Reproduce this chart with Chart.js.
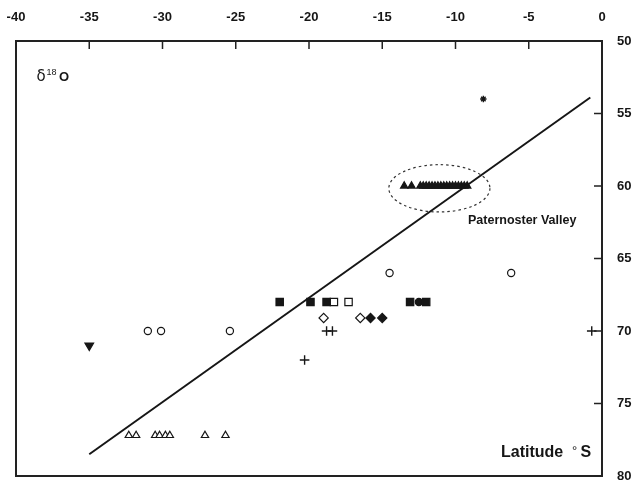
<!DOCTYPE html>
<html>
<head>
<meta charset="utf-8">
<script src="https://cdn.jsdelivr.net/npm/chart.js@4/dist/chart.umd.min.js"></script>
<style>
  html, body { margin: 0; padding: 0; background: #fff; }
  #a { display: block; }
</style>
</head>
<body>
<canvas id="a" width="634" height="485"></canvas>
<script>
// x = latitude (°S, negative), y = δ18O
const xTicks = [-40, -35, -30, -25, -20, -15, -10, -5, 0];
const yTicks = [50, 55, 60, 65, 70, 75, 80];

const filledSquares = [[-22.0, 68], [-19.9, 68], [-18.8, 68], [-13.1, 68], [-12.0, 68]];
const openSquares = [[-18.3, 68], [-17.3, 68]];
const filledCircles = [[-12.5, 68]];
const openCircles = [[-31.0, 70], [-30.1, 70], [-25.4, 70], [-14.5, 66], [-6.2, 66]];
const openDiamonds = [[-19.0, 69.1], [-16.5, 69.1]];
const filledDiamonds = [[-15.8, 69.1], [-15.0, 69.1]];
const crosses = [[-18.8, 70], [-18.4, 70], [-20.3, 72], [-0.7, 70]];
const stars = [[-8.1, 54]];
const downTriangles = [[-35.0, 71]];

const openTriX = [-32.3, -31.8, -30.5, -30.2, -29.8, -29.5, -27.1, -25.7];
const openTriY = 77.2;

// Paternoster Valley
const valleyX = [-13.5, -13.0, -12.4, -12.2, -12.0, -11.8, -11.6, -11.4, -11.2, -11.0,
  -10.8, -10.6, -10.4, -10.2, -10.0, -9.8, -9.6, -9.4, -9.2];
const valleyY = 60;

const trendX = [-35.0, -0.8];
const trendY = [78.5, 53.9];

const ink = "#161616";
const pts = (arr) => arr.map(([x, y]) => ({ x, y }));

function marks(data, style, r, filled, extra) {
  return Object.assign({
    type: "scatter",
    data: data,
    pointStyle: style,
    pointRadius: r,
    pointHoverRadius: r,
    backgroundColor: filled ? ink : "#fff",
    borderColor: ink,
    borderWidth: 1.2,
    clip: false,
  }, extra || {});
}

const deco = {
  id: "deco",
  afterDraw(chart) {
    const { ctx, chartArea: a, scales } = chart;
    const x = scales.x, y = scales.y;
    ctx.save();

    // dashed ellipse round the valley samples
    const cx = x.getPixelForValue(-11.1), cy = y.getPixelForValue(60.16);
    const rx = x.getPixelForValue(-11.1 + 3.45) - cx;
    const ry = y.getPixelForValue(60.16 + 1.63) - cy;
    ctx.strokeStyle = "#333";
    ctx.lineWidth = 1.2;
    ctx.setLineDash([2.5, 3]);
    ctx.beginPath();
    ctx.ellipse(cx, cy, rx, ry, 0, 0, Math.PI * 2);
    ctx.stroke();
    ctx.setLineDash([]);

    // frame
    ctx.strokeStyle = "#222";
    ctx.lineWidth = 2;
    ctx.strokeRect(a.left, a.top, a.right - a.left, a.bottom - a.top);

    // inward tick marks
    ctx.lineWidth = 1.5;
    ctx.beginPath();
    xTicks.forEach((v) => {
      const px = x.getPixelForValue(v);
      ctx.moveTo(px, a.top);
      ctx.lineTo(px, a.top + 8);
    });
    yTicks.forEach((v) => {
      const py = y.getPixelForValue(v);
      ctx.moveTo(a.right, py);
      ctx.lineTo(a.right - 8, py);
    });
    ctx.stroke();

    // texts
    ctx.fillStyle = ink;
    ctx.textBaseline = "alphabetic";
    ctx.textAlign = "left";
    ctx.font = "15px 'DejaVu Sans', 'Liberation Sans', sans-serif";
    ctx.fillText("δ", 36.5, 81);
    ctx.font = "9px 'Liberation Sans', Arial, sans-serif";
    ctx.fillText("18", 46.5, 75);
    ctx.font = "bold 13px 'Liberation Sans', Arial, sans-serif";
    ctx.fillText("O", 59, 80.7);

    ctx.font = "bold 12.5px 'Liberation Sans', Arial, sans-serif";
    ctx.fillText("Paternoster Valley", 468, 224);

    ctx.font = "bold 16px 'Liberation Sans', Arial, sans-serif";
    ctx.fillText("Latitude", 501, 457);
    ctx.font = "13px 'Liberation Sans', Arial, sans-serif";
    ctx.fillText("°", 572, 455);
    ctx.font = "bold 16px 'Liberation Sans', Arial, sans-serif";
    ctx.fillText("S", 580.5, 457);

    ctx.restore();
  },
};

const tickFont = { family: "'Liberation Sans', Arial, sans-serif", size: 13, weight: "bold" };

new Chart(document.querySelector("#a").getContext("2d"), {
  type: "scatter",
  data: {
    datasets: [
      {
        type: "line",
        data: trendX.map((v, i) => ({ x: v, y: trendY[i] })),
        borderColor: ink,
        borderWidth: 2,
        pointRadius: 0,
        fill: false,
        clip: false,
      },
      marks(pts(filledSquares), "rect", 5.2, true),
      marks(pts(openSquares), "rect", 5.2, false),
      marks(pts(filledCircles), "circle", 3.6, true),
      marks(pts(openCircles), "circle", 3.6, false),
      marks(pts(openDiamonds), "rectRot", 4.6, false),
      marks(pts(filledDiamonds), "rectRot", 4.6, true),
      marks(pts(crosses), "cross", 4.8, false, { borderWidth: 1.4 }),
      marks(pts(stars), "star", 3.2, false, { borderWidth: 1.4 }),
      marks(pts(downTriangles), "triangle", 5, true, { rotation: 180 }),
      marks(openTriX.map((v) => ({ x: v, y: openTriY })), "triangle", 4.2, false),
      marks(valleyX.map((v) => ({ x: v, y: valleyY })), "triangle", 4.2, true),
    ],
  },
  options: {
    responsive: false,
    animation: false,
    events: [],
    layout: { padding: { top: 0, left: 16, right: 0, bottom: 9 } },
    plugins: {
      legend: { display: false },
      tooltip: { enabled: false },
    },
    scales: {
      x: {
        type: "linear",
        position: "top",
        min: -40,
        max: 0,
        afterBuildTicks: (s) => { s.ticks = xTicks.map((v) => ({ value: v })); },
        afterFit: (s) => {
          s.height = 41;
          s.paddingLeft = 0;
          s.paddingRight = 0;
        },
        grid: { display: false, drawTicks: false },
        border: { display: false },
        ticks: { color: ink, font: tickFont, padding: 16, maxRotation: 0 },
      },
      y: {
        type: "linear",
        position: "right",
        reverse: true,
        min: 50,
        max: 80,
        afterBuildTicks: (s) => { s.ticks = yTicks.map((v) => ({ value: v })); },
        afterFit: (s) => {
          s.width = 32;
          s.paddingTop = 0;
          s.paddingBottom = 0;
        },
        grid: { display: false, drawTicks: false },
        border: { display: false },
        ticks: { color: ink, font: tickFont, padding: 15 },
      },
    },
  },
  plugins: [deco],
});
</script>
</body>
</html>
